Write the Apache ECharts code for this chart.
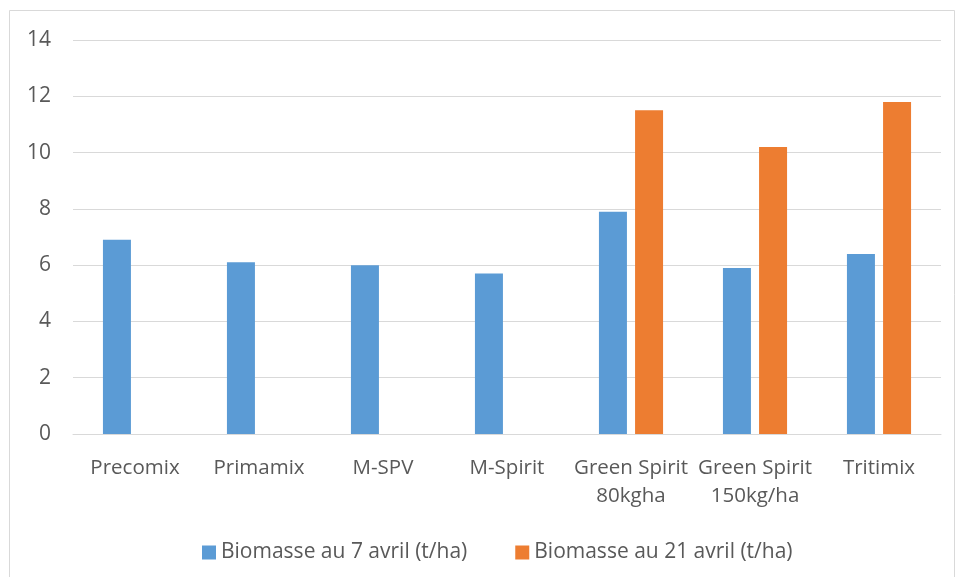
<!DOCTYPE html>
<html><head><meta charset="utf-8">
<script src="https://cdn.jsdelivr.net/npm/echarts@6/dist/echarts.min.js"></script>
<style>html,body{margin:0;padding:0;background:#fff}#c{width:957px;height:577px}</style>
</head><body><div id="c"></div>
<script>
const categories = ["Precomix", "Primamix", "M-SPV", "M-Spirit", "Green Spirit\n80kgha", "Green Spirit\n150kg/ha", "Tritimix"];
const seriesNames = ["Biomasse au 7 avril (t/ha)", "Biomasse au 21 avril (t/ha)"];
const avril7 = [6.9, 6.1, 6.0, 5.7, 7.9, 5.9, 6.4];
const avril21 = [null, null, null, null, 11.5, 10.2, 11.8];
const yMin = 0, yMax = 14, yStep = 2;

const font = "'Open Sans', 'Liberation Sans', sans-serif";
const chart = echarts.init(document.getElementById('c'));
chart.setOption({
  animation: false,
  backgroundColor: '#fff',
  graphic: [{type:'rect', shape:{x:9.5,y:10.5,width:945,height:580}, style:{fill:'none', stroke:'#d9d9d9', lineWidth:1}}],
  grid: {left: 73, right: 16, top: 40, bottom: 143},
  legend: {
    top: 537, left: 197, itemWidth: 14, itemHeight: 14, itemGap: 48,
    icon: 'rect',
    textStyle: {color: '#595959', fontFamily: font, fontSize: 21}
  },
  xAxis: {
    type: 'category', data: categories,
    axisLine: {lineStyle: {color: '#d9d9d9'}},
    axisTick: {show: false},
    axisLabel: {color: '#595959', fontFamily: font, fontSize: 20.5, margin: 20, lineHeight: 28, interval: 0}
  },
  yAxis: {
    type: 'value', min: yMin, max: yMax, interval: yStep,
    axisLine: {show: false}, axisTick: {show: false},
    splitLine: {lineStyle: {color: '#d9d9d9'}},
    axisLabel: {color: '#595959', fontFamily: font, fontSize: 21, margin: 22}
  },
  series: [
    {name: seriesNames[0], type: 'bar', data: avril7, barWidth: 28, barGap: '29%', itemStyle: {color: '#5B9BD5'}},
    {name: seriesNames[1], type: 'bar', data: avril21, barWidth: 28, itemStyle: {color: '#ED7D31'}}
  ]
});
</script></body></html>
